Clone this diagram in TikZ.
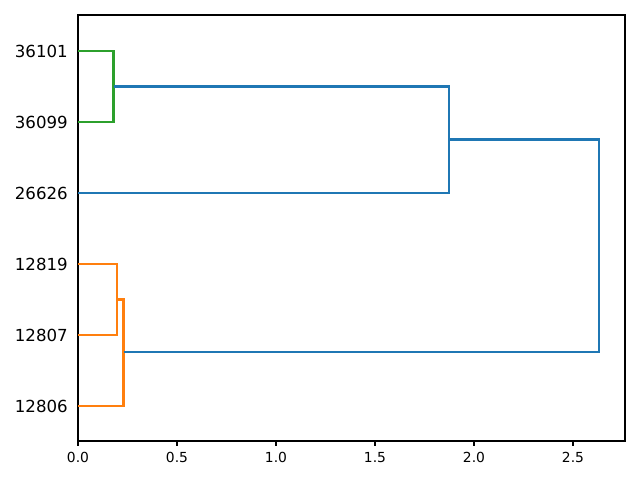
\documentclass[tikz,border=0pt]{standalone}
\usepackage{fontspec}
\setmainfont{DejaVu Sans}
\usetikzlibrary{positioning}

\definecolor{tabblue}{HTML}{1F77B4}
\definecolor{taborange}{HTML}{FF7F0E}
\definecolor{tabgreen}{HTML}{2CA02C}

\begin{document}
\begin{tikzpicture}[
            x=0.01in, y=-0.01in,
            % Style for the dendrogram links
            link/.style={line width=1.5pt, line join=miter},
            % Style for the leaf labels on the left
            leaf/.style={anchor=east, inner sep=0pt, font=\fontsize{12}{14}\selectfont},
            % Style for the numbers under the axis
            tick/.style={anchor=north, inner sep=0pt, font=\fontsize{10}{12}\selectfont}
        ]

        % --- Page size ---
        \useasboundingbox (0,0) rectangle (640,480);

        % --- Axes frame ---
        \draw[line width=0.8pt] (78,15) rectangle (625,441);

        % --- Ticks and numbers on the x axis ---
        \foreach \v/\name in {0/0.0, 1/0.5, 2/1.0, 3/1.5, 4/2.0, 5/2.5} {
            \coordinate (t\v) at (78+\v*99, 441);
            \draw[line width=0.8pt] (t\v) -- ++(0,4.9);
            \node[tick] (n\v) at (78+\v*99, 452) {\name};
        }

        % --- Leaf labels ---
        \foreach \y/\name in {51/36101, 122/36099, 193/26626, 264/12819, 335/12807, 406/12806} {
            \node[leaf] (l\name) at (68, \y) {\name};
        }

        % --- Green cluster ---
        \draw[link, tabgreen] (78,51) -- (113.5,51) -- (113.5,122) -- (78,122);

        % --- Orange cluster ---
        \draw[link, taborange] (78,264) -- (117,264) -- (117,335) -- (78,335);
        \draw[link, taborange] (117,299.5) -- (123.5,299.5) -- (123.5,406) -- (78,406);

        % --- Blue links above the cut ---
        \draw[link, tabblue] (113.5,86.5) -- (449,86.5) -- (449,193) -- (78,193);
        \draw[link, tabblue] (449,139.5) -- (599,139.5) -- (599,352) -- (123.5,352);

        \end{tikzpicture}
\end{document}
